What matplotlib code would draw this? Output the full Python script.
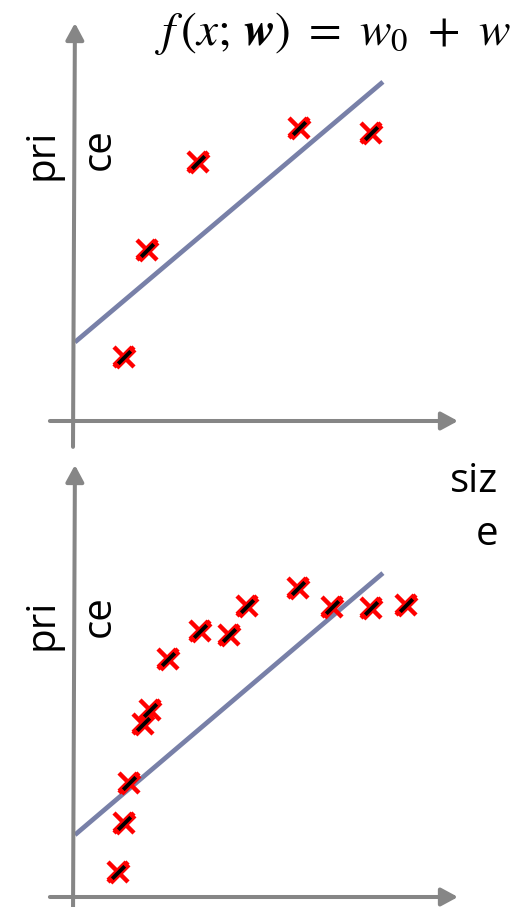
import numpy as np
import matplotlib
matplotlib.use('Agg')
import matplotlib.pyplot as plt
from matplotlib.path import Path

plt.rcParams['mathtext.fontset'] = 'stix'

# dados (unidades arbitrárias, origem no cruzamento dos eixos)
size_a = [1.32, 1.92, 3.25, 5.87, 7.74]
price_a = [1.61, 4.30, 6.51, 7.36, 7.24]
w_a = [1.94, 0.8175]

size_b = [1.17, 1.32, 1.45, 1.82, 2.00, 2.47, 3.30, 4.05, 4.52, 5.84, 6.73, 7.74, 8.65]
price_b = [0.58, 1.71, 2.64, 4.00, 4.33, 5.51, 6.16, 6.06, 6.74, 7.15, 6.71, 6.69, 6.76]
w_b = [1.40, 0.7575]

line_x = np.array([0.05, 8.05])

W, H = 524, 907
axis_color = '#868686'
line_color = '#7880a8'
slash = Path([(-1, -1), (1, 1)])

fig = plt.figure(figsize=(W / 100, H / 100), dpi=100)


def panel(rect, xlim, ylim, xs, ys, w, y_bottom):
    ax = fig.add_axes(rect)
    ax.set_xlim(xlim)
    ax.set_ylim(ylim)
    ax.axis('off')
    arrow = dict(arrowstyle='-|>,head_length=0.5,head_width=0.27', lw=2.9,
                 color=axis_color, shrinkA=0, shrinkB=0, mutation_scale=20)
    # eixos com setas
    ax.annotate('', xy=(10, 0), xytext=(-0.6, 0), arrowprops=arrow)
    ax.annotate('', xy=(0.05, 10), xytext=(0, y_bottom), arrowprops=arrow)
    # reta ajustada
    ax.plot(line_x, w[0] + w[1] * line_x, color=line_color, lw=3.4,
            solid_capstyle='butt')
    # pontos
    ax.plot(xs, ys, ls='none', marker='x', ms=14, mew=3.2, color='red')
    ax.plot(xs, ys, ls='none', marker=slash, ms=13, mew=6, color='red')
    ax.plot(xs, ys, ls='none', marker=slash, ms=9, mew=2.8, color='black')
    return ax


panel([0, 1 - 453 / H, 1, 453 / H], (-73 / 38.5, (W - 73) / 38.5),
      ((421 - 453) / 39.8, 421 / 39.8), size_a, price_a, w_a, -0.65)
panel([0, 0, 1, 454 / H], (-73 / 38.5, (W - 73) / 38.5),
      ((897 - 907) / 43.2, (897 - 453) / 43.2), size_b, price_b, w_b, -0.5)


def px(x, y):
    return x / W, 1 - y / H


lab = dict(fontsize=29, family='Open Sans', rotation=90, rotation_mode='anchor',
           ha='left', va='baseline')
for y0, y1 in [(180, 170), (650, 637)]:
    fig.text(*px(53, y0), 'pri', **lab)
    fig.text(*px(110, y1), 'ce', **lab)

fig.text(*px(498, 545), 'siz\ne', fontsize=29, family='Open Sans',
         ha='right', va='baseline', multialignment='right', linespacing=1.4)

fig.text(*px(155, 45), r'$f\,(x;\,\mathbfit{w})\ =\ w_0\ +\ w$', fontsize=34,
         ha='left', va='baseline')

fig.savefig('out.png', dpi=100)
